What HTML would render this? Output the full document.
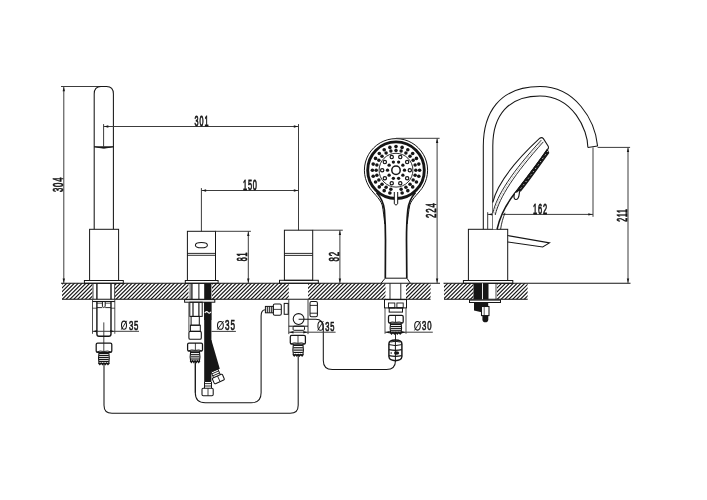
<!DOCTYPE html>
<html><head><meta charset="utf-8"><style>
html,body{margin:0;padding:0;background:#fff;}
svg{display:block;will-change:transform;}
text{font-family:"Liberation Sans",sans-serif;}
</style></head><body>
<svg width="707" height="500" viewBox="0 0 707 500">
<rect width="707" height="500" fill="#fff"/>
<clipPath id="hc1"><rect x="62" y="283.3" width="30.4" height="16"/></clipPath><path clip-path="url(#hc1)" d="M37.10,301.3 L57.10,281.3 M40.95,301.3 L60.95,281.3 M44.80,301.3 L64.80,281.3 M48.65,301.3 L68.65,281.3 M52.50,301.3 L72.50,281.3 M56.35,301.3 L76.35,281.3 M60.20,301.3 L80.20,281.3 M64.05,301.3 L84.05,281.3 M67.90,301.3 L87.90,281.3 M71.75,301.3 L91.75,281.3 M75.60,301.3 L95.60,281.3 M79.45,301.3 L99.45,281.3 M83.30,301.3 L103.30,281.3 M87.15,301.3 L107.15,281.3 M91.00,301.3 L111.00,281.3 M94.85,301.3 L114.85,281.3" stroke="#161616" stroke-width="1.15" fill="none"/>
<clipPath id="hc2"><rect x="115" y="283.3" width="73.5" height="16"/></clipPath><path clip-path="url(#hc2)" d="M91.00,301.3 L111.00,281.3 M94.85,301.3 L114.85,281.3 M98.70,301.3 L118.70,281.3 M102.55,301.3 L122.55,281.3 M106.40,301.3 L126.40,281.3 M110.25,301.3 L130.25,281.3 M114.10,301.3 L134.10,281.3 M117.95,301.3 L137.95,281.3 M121.80,301.3 L141.80,281.3 M125.65,301.3 L145.65,281.3 M129.50,301.3 L149.50,281.3 M133.35,301.3 L153.35,281.3 M137.20,301.3 L157.20,281.3 M141.05,301.3 L161.05,281.3 M144.90,301.3 L164.90,281.3 M148.75,301.3 L168.75,281.3 M152.60,301.3 L172.60,281.3 M156.45,301.3 L176.45,281.3 M160.30,301.3 L180.30,281.3 M164.15,301.3 L184.15,281.3 M168.00,301.3 L188.00,281.3 M171.85,301.3 L191.85,281.3 M175.70,301.3 L195.70,281.3 M179.55,301.3 L199.55,281.3 M183.40,301.3 L203.40,281.3 M187.25,301.3 L207.25,281.3 M191.10,301.3 L211.10,281.3" stroke="#161616" stroke-width="1.15" fill="none"/>
<clipPath id="hc3"><rect x="212" y="283.3" width="76.8" height="16"/></clipPath><path clip-path="url(#hc3)" d="M187.25,301.3 L207.25,281.3 M191.10,301.3 L211.10,281.3 M194.95,301.3 L214.95,281.3 M198.80,301.3 L218.80,281.3 M202.65,301.3 L222.65,281.3 M206.50,301.3 L226.50,281.3 M210.35,301.3 L230.35,281.3 M214.20,301.3 L234.20,281.3 M218.05,301.3 L238.05,281.3 M221.90,301.3 L241.90,281.3 M225.75,301.3 L245.75,281.3 M229.60,301.3 L249.60,281.3 M233.45,301.3 L253.45,281.3 M237.30,301.3 L257.30,281.3 M241.15,301.3 L261.15,281.3 M245.00,301.3 L265.00,281.3 M248.85,301.3 L268.85,281.3 M252.70,301.3 L272.70,281.3 M256.55,301.3 L276.55,281.3 M260.40,301.3 L280.40,281.3 M264.25,301.3 L284.25,281.3 M268.10,301.3 L288.10,281.3 M271.95,301.3 L291.95,281.3 M275.80,301.3 L295.80,281.3 M279.65,301.3 L299.65,281.3 M283.50,301.3 L303.50,281.3 M287.35,301.3 L307.35,281.3 M291.20,301.3 L311.20,281.3" stroke="#161616" stroke-width="1.15" fill="none"/>
<clipPath id="hc4"><rect x="308" y="283.3" width="77.5" height="16"/></clipPath><path clip-path="url(#hc4)" d="M283.50,301.3 L303.50,281.3 M287.35,301.3 L307.35,281.3 M291.20,301.3 L311.20,281.3 M295.05,301.3 L315.05,281.3 M298.90,301.3 L318.90,281.3 M302.75,301.3 L322.75,281.3 M306.60,301.3 L326.60,281.3 M310.45,301.3 L330.45,281.3 M314.30,301.3 L334.30,281.3 M318.15,301.3 L338.15,281.3 M322.00,301.3 L342.00,281.3 M325.85,301.3 L345.85,281.3 M329.70,301.3 L349.70,281.3 M333.55,301.3 L353.55,281.3 M337.40,301.3 L357.40,281.3 M341.25,301.3 L361.25,281.3 M345.10,301.3 L365.10,281.3 M348.95,301.3 L368.95,281.3 M352.80,301.3 L372.80,281.3 M356.65,301.3 L376.65,281.3 M360.50,301.3 L380.50,281.3 M364.35,301.3 L384.35,281.3 M368.20,301.3 L388.20,281.3 M372.05,301.3 L392.05,281.3 M375.90,301.3 L395.90,281.3 M379.75,301.3 L399.75,281.3 M383.60,301.3 L403.60,281.3 M387.45,301.3 L407.45,281.3" stroke="#161616" stroke-width="1.15" fill="none"/>
<clipPath id="hc5"><rect x="406" y="283.3" width="24.6" height="16"/></clipPath><path clip-path="url(#hc5)" d="M383.60,301.3 L403.60,281.3 M387.45,301.3 L407.45,281.3 M391.30,301.3 L411.30,281.3 M395.15,301.3 L415.15,281.3 M399.00,301.3 L419.00,281.3 M402.85,301.3 L422.85,281.3 M406.70,301.3 L426.70,281.3 M410.55,301.3 L430.55,281.3 M414.40,301.3 L434.40,281.3 M418.25,301.3 L438.25,281.3 M422.10,301.3 L442.10,281.3 M425.95,301.3 L445.95,281.3 M429.80,301.3 L449.80,281.3 M433.65,301.3 L453.65,281.3" stroke="#161616" stroke-width="1.15" fill="none"/>
<clipPath id="hc6"><rect x="444" y="283.3" width="29.5" height="16"/></clipPath><path clip-path="url(#hc6)" d="M422.10,301.3 L442.10,281.3 M425.95,301.3 L445.95,281.3 M429.80,301.3 L449.80,281.3 M433.65,301.3 L453.65,281.3 M437.50,301.3 L457.50,281.3 M441.35,301.3 L461.35,281.3 M445.20,301.3 L465.20,281.3 M449.05,301.3 L469.05,281.3 M452.90,301.3 L472.90,281.3 M456.75,301.3 L476.75,281.3 M460.60,301.3 L480.60,281.3 M464.45,301.3 L484.45,281.3 M468.30,301.3 L488.30,281.3 M472.15,301.3 L492.15,281.3 M476.00,301.3 L496.00,281.3" stroke="#161616" stroke-width="1.15" fill="none"/>
<clipPath id="hc7"><rect x="497" y="283.3" width="30.6" height="16"/></clipPath><path clip-path="url(#hc7)" d="M472.15,301.3 L492.15,281.3 M476.00,301.3 L496.00,281.3 M479.85,301.3 L499.85,281.3 M483.70,301.3 L503.70,281.3 M487.55,301.3 L507.55,281.3 M491.40,301.3 L511.40,281.3 M495.25,301.3 L515.25,281.3 M499.10,301.3 L519.10,281.3 M502.95,301.3 L522.95,281.3 M506.80,301.3 L526.80,281.3 M510.65,301.3 L530.65,281.3 M514.50,301.3 L534.50,281.3 M518.35,301.3 L538.35,281.3 M522.20,301.3 L542.20,281.3 M526.05,301.3 L546.05,281.3 M529.90,301.3 L549.90,281.3" stroke="#161616" stroke-width="1.15" fill="none"/>
<line x1="61" y1="283.3" x2="440" y2="283.3" stroke="#161616" stroke-width="1.05"/>
<line x1="62" y1="299.3" x2="430.6" y2="299.3" stroke="#161616" stroke-width="1.05"/>
<line x1="443.5" y1="283.3" x2="630.5" y2="283.3" stroke="#161616" stroke-width="1.05"/>
<line x1="444" y1="299.3" x2="527.6" y2="299.3" stroke="#161616" stroke-width="1.05"/>
<line x1="61" y1="86.5" x2="104" y2="86.5" stroke="#3c3c3c" stroke-width="1.0"/>
<line x1="63.8" y1="86.5" x2="63.8" y2="283.3" stroke="#3c3c3c" stroke-width="1.0"/>
<path d="M63.8,87 L62.6,91.2 L65,91.2Z" fill="#161616"/>
<path d="M63.8,282.8 L62.6,278.6 L65,278.6Z" fill="#161616"/>
<text transform="translate(62.7,192.11) rotate(-90) scale(0.5385,1)" letter-spacing="1.671" font-size="14.20" fill="#161616" stroke="#161616" stroke-width="0.743">304</text>
<path d="M94.2,229.3 L94.2,94 C94.2,89.5 96.5,86.5 101,86.5 L106.6,86.5 C111,86.5 113.4,89.5 113.4,94 L113.4,229.3" fill="none" stroke="#161616" stroke-width="1.05" />
<path d="M94.2,146.8 L113.4,146.8 Q103.8,149.6 94.2,146.8 Z" fill="#161616" stroke="#161616" stroke-width="0.9" />
<line x1="103.6" y1="124.1" x2="103.6" y2="147" stroke="#3c3c3c" stroke-width="1.0"/>
<rect x="89.6" y="229.3" width="29" height="51.2" rx="0" fill="none" stroke="#161616" stroke-width="1.0"/>
<rect x="84.4" y="280.5" width="38.9" height="2.8" rx="0" fill="none" stroke="#161616" stroke-width="1.0"/>
<line x1="93" y1="283.3" x2="93" y2="299.3" stroke="#161616" stroke-width="0.8"/>
<line x1="114.6" y1="283.3" x2="114.6" y2="299.3" stroke="#161616" stroke-width="0.8"/>
<line x1="96.9" y1="283.3" x2="96.9" y2="299.3" stroke="#161616" stroke-width="1.4"/>
<line x1="111" y1="283.3" x2="111" y2="299.3" stroke="#161616" stroke-width="1.4"/>
<line x1="92.5" y1="299.3" x2="92.5" y2="333.8" stroke="#3c3c3c" stroke-width="0.9"/>
<line x1="114.8" y1="299.3" x2="114.8" y2="333.8" stroke="#3c3c3c" stroke-width="0.9"/>
<line x1="92.5" y1="301.5" x2="114.8" y2="301.5" stroke="#161616" stroke-width="1.1"/>
<line x1="92.5" y1="308.2" x2="96.9" y2="308.2" stroke="#161616" stroke-width="0.7"/>
<line x1="111" y1="308.2" x2="114.8" y2="308.2" stroke="#161616" stroke-width="0.7"/>
<path d="M96.9,301.5 L96.9,334 Q96.9,336.2 99,336.2 L108.8,336.2 Q111,336.2 111,334 L111,301.5" fill="none" stroke="#161616" stroke-width="1.4" />
<path d="M102.4,301.5 L102.4,306.5 Q103.8,308.6 105.2,306.5 L105.2,301.5" fill="none" stroke="#161616" stroke-width="1.0" />
<line x1="96.9" y1="303.2" x2="102.4" y2="303.2" stroke="#161616" stroke-width="0.7"/>
<line x1="105.2" y1="303.2" x2="111" y2="303.2" stroke="#161616" stroke-width="0.7"/>
<line x1="96.9" y1="307.6" x2="102.4" y2="307.6" stroke="#161616" stroke-width="0.9"/>
<line x1="105.2" y1="307.6" x2="111" y2="307.6" stroke="#161616" stroke-width="0.9"/>
<line x1="103.8" y1="322.4" x2="103.8" y2="343.4" stroke="#161616" stroke-width="0.8"/>
<line x1="92.5" y1="331.3" x2="139" y2="331.3" stroke="#3c3c3c" stroke-width="1.0"/>
<path d="M93,331.3 L97.2,330.1 L97.2,332.5Z" fill="#161616"/>
<path d="M114.3,331.3 L110.1,330.1 L110.1,332.5Z" fill="#161616"/>
<ellipse cx="124" cy="325.2" rx="2.5" ry="4.1" fill="none" stroke="#161616" stroke-width="1.05"/>
<line x1="121.3" y1="329.6" x2="126.7" y2="320.8" stroke="#161616" stroke-width="0.9"/>
<text transform="translate(128.89,329.6) scale(0.5724,1)" letter-spacing="1.572" font-size="13.62" fill="#161616" stroke="#161616" stroke-width="0.699" style="vector-effect:none">35</text>
<rect x="96.2" y="343.1" width="15.6" height="9.2" rx="1.4" fill="#fff" stroke="#161616" stroke-width="1.25"/>
<line x1="103.8" y1="343.1" x2="103.8" y2="351.3" stroke="#161616" stroke-width="0.8"/>
<path d="M96.7,352 Q100,350.3 103.8,351.5 Q107.8,350.3 111.3,352" fill="none" stroke="#161616" stroke-width="0.9" />
<path d="M99,352.3 C98.2,357.22 98.2,359.68 99,363.6 M108.8,352.3 C109.6,357.22 109.6,359.68 108.8,363.6" fill="none" stroke="#161616" stroke-width="1.1" />
<line x1="99" y1="353.6" x2="108.8" y2="353.6" stroke="#161616" stroke-width="1.15"/>
<line x1="99" y1="355.56" x2="108.8" y2="355.56" stroke="#161616" stroke-width="1.15"/>
<line x1="99" y1="357.52" x2="108.8" y2="357.52" stroke="#161616" stroke-width="1.15"/>
<line x1="99" y1="359.48" x2="108.8" y2="359.48" stroke="#161616" stroke-width="1.15"/>
<line x1="99" y1="361.44" x2="108.8" y2="361.44" stroke="#161616" stroke-width="1.15"/>
<line x1="99" y1="363.4" x2="108.8" y2="363.4" stroke="#161616" stroke-width="1.15"/>
<path d="M98.5,363 L99.85,364.6 L101.2,363 L102.55,364.6 L103.9,363 L105.25,364.6 L106.6,363 L107.95,364.6 L109.3,363" fill="none" stroke="#161616" stroke-width="1.2" />
<path d="M104,363.5 L104,405.2 Q104,413.3 112,413.3 L290.2,413.3 Q298.2,413.3 298.2,405.2 L298.2,355.1" fill="none" stroke="#161616" stroke-width="1.05" />
<line x1="103.6" y1="126.5" x2="298.5" y2="126.5" stroke="#3c3c3c" stroke-width="1.0"/>
<path d="M104.1,126.5 L108.3,125.3 L108.3,127.7Z" fill="#161616"/>
<path d="M298,126.5 L293.8,125.3 L293.8,127.7Z" fill="#161616"/>
<text transform="translate(194.61,125.7) scale(0.4972,1)" letter-spacing="1.810" font-size="14.49" fill="#161616" stroke="#161616" stroke-width="0.804" style="vector-effect:none">301</text>
<line x1="298.5" y1="124.1" x2="298.5" y2="230.2" stroke="#3c3c3c" stroke-width="1.0"/>
<line x1="201.4" y1="188.1" x2="201.4" y2="231.3" stroke="#3c3c3c" stroke-width="1.0"/>
<line x1="201.4" y1="190.5" x2="298.5" y2="190.5" stroke="#3c3c3c" stroke-width="1.0"/>
<path d="M201.9,190.5 L206.1,189.3 L206.1,191.7Z" fill="#161616"/>
<path d="M298,190.5 L293.8,189.3 L293.8,191.7Z" fill="#161616"/>
<text transform="translate(242.91,189.6) scale(0.5059,1)" letter-spacing="1.779" font-size="14.49" fill="#161616" stroke="#161616" stroke-width="0.791" style="vector-effect:none">150</text>
<rect x="187.4" y="231.3" width="28.1" height="49.2" rx="0" fill="none" stroke="#161616" stroke-width="1.0"/>
<line x1="187.4" y1="253.4" x2="215.5" y2="253.4" stroke="#161616" stroke-width="0.9"/>
<line x1="187.4" y1="255.3" x2="215.5" y2="255.3" stroke="#161616" stroke-width="0.9"/>
<ellipse cx="201.4" cy="245.2" rx="6" ry="2.6" fill="none" stroke="#161616" stroke-width="1.05"/>
<rect x="185.3" y="280.5" width="32.8" height="2.8" rx="0" fill="none" stroke="#161616" stroke-width="1.0"/>
<line x1="215.5" y1="231.3" x2="250.9" y2="231.3" stroke="#3c3c3c" stroke-width="1.0"/>
<line x1="248.3" y1="231.3" x2="248.3" y2="283.3" stroke="#3c3c3c" stroke-width="1.0"/>
<path d="M248.3,231.8 L247.1,236 L249.5,236Z" fill="#161616"/>
<path d="M248.3,282.8 L247.1,278.6 L249.5,278.6Z" fill="#161616"/>
<text transform="translate(246.6,261.29) rotate(-90) scale(0.5239,1)" letter-spacing="1.718" font-size="13.77" fill="#161616" stroke="#161616" stroke-width="0.764">81</text>
<line x1="190.1" y1="283.3" x2="190.1" y2="299.3" stroke="#161616" stroke-width="0.8"/>
<line x1="191.9" y1="283.3" x2="191.9" y2="299.3" stroke="#161616" stroke-width="1.3"/>
<line x1="198.9" y1="283.3" x2="198.9" y2="299.3" stroke="#161616" stroke-width="1.0"/>
<rect x="204.2" y="283.3" width="7.2" height="98.7" fill="#161616"/>
<path d="M210.4,340 L211.4,340 L219.8,368.8 L213.2,371.5 L210.4,371.5 Z" fill="#161616"/>
<rect x="184.6" y="299.6" width="30.2" height="2.6" rx="0" fill="#fff" stroke="#161616" stroke-width="1.0"/>
<rect x="204.2" y="302.2" width="7.2" height="17.8" fill="#161616"/>
<path d="M204.8,313 Q206.5,310.6 208,312.4 Q209.5,314.2 211,311.8" fill="none" stroke="#fff" stroke-width="1.1" />
<rect x="189.8" y="302.2" width="12.4" height="14.2" rx="0" fill="none" stroke="#161616" stroke-width="1.0"/>
<line x1="193" y1="302.2" x2="193" y2="316.4" stroke="#161616" stroke-width="1.2"/>
<line x1="198.9" y1="302.2" x2="198.9" y2="316.4" stroke="#161616" stroke-width="1.2"/>
<line x1="188.9" y1="302.2" x2="188.9" y2="331.4" stroke="#3c3c3c" stroke-width="0.9"/>
<rect x="191.1" y="316.4" width="8.2" height="8.8" rx="0" fill="none" stroke="#161616" stroke-width="1.0"/>
<rect x="190.4" y="325.2" width="9.9" height="6.2" rx="0" fill="none" stroke="#161616" stroke-width="1.0"/>
<rect x="188.9" y="331.4" width="12.4" height="7.9" rx="1.3" fill="none" stroke="#161616" stroke-width="1.1"/>
<line x1="211.4" y1="331.4" x2="235.9" y2="331.4" stroke="#3c3c3c" stroke-width="1.0"/>
<ellipse cx="220.4" cy="325.4" rx="2.9" ry="3.9" fill="none" stroke="#161616" stroke-width="1.05"/>
<line x1="217.3" y1="329.6" x2="223.5" y2="321.2" stroke="#161616" stroke-width="0.9"/>
<text transform="translate(225.08,329.9) scale(0.5876,1)" letter-spacing="1.532" font-size="13.77" fill="#161616" stroke="#161616" stroke-width="0.681" style="vector-effect:none">35</text>
<rect x="187.6" y="343" width="14.9" height="8.2" rx="1.4" fill="#fff" stroke="#161616" stroke-width="1.25"/>
<line x1="195.4" y1="343" x2="195.4" y2="350.2" stroke="#161616" stroke-width="0.8"/>
<path d="M188.1,350.9 Q191.5,349.2 195.4,350.4 Q198.95,349.2 202,350.9" fill="none" stroke="#161616" stroke-width="0.9" />
<path d="M190.7,351.2 C189.9,355.68 189.9,357.92 190.7,361.4 M199.4,351.2 C200.2,355.68 200.2,357.92 199.4,361.4" fill="none" stroke="#161616" stroke-width="1.1" />
<line x1="190.7" y1="352.5" x2="199.4" y2="352.5" stroke="#161616" stroke-width="1.15"/>
<line x1="190.7" y1="354.68" x2="199.4" y2="354.68" stroke="#161616" stroke-width="1.15"/>
<line x1="190.7" y1="356.85" x2="199.4" y2="356.85" stroke="#161616" stroke-width="1.15"/>
<line x1="190.7" y1="359.02" x2="199.4" y2="359.02" stroke="#161616" stroke-width="1.15"/>
<line x1="190.7" y1="361.2" x2="199.4" y2="361.2" stroke="#161616" stroke-width="1.15"/>
<path d="M190.2,360.8 L191.41,362.4 L192.62,360.8 L193.84,362.4 L195.05,360.8 L196.26,362.4 L197.47,360.8 L198.69,362.4 L199.9,360.8" fill="none" stroke="#161616" stroke-width="1.2" />
<line x1="195.3" y1="362.2" x2="195.3" y2="392.8" stroke="#161616" stroke-width="1.0"/>
<path d="M195.3,362.2 L195.3,392.8 Q195.3,402.8 205.3,402.8 L251.1,402.8 Q261.1,402.8 261.1,392.8 L261.1,316 Q261.1,309.8 265.4,309.8" fill="none" stroke="#161616" stroke-width="1.05" />
<path d="M204.5,382 L204.5,388.2 M211.5,382 L211.5,388.2" fill="none" stroke="#161616" stroke-width="1.0" />
<line x1="204.5" y1="383.6" x2="211.5" y2="383.6" stroke="#161616" stroke-width="0.9"/>
<line x1="204.5" y1="386" x2="211.5" y2="386" stroke="#161616" stroke-width="0.9"/>
<rect x="202" y="388.3" width="11.2" height="7.5" rx="1.2" fill="none" stroke="#161616" stroke-width="1.05"/>
<line x1="208" y1="388.3" x2="208" y2="395.8" stroke="#161616" stroke-width="0.8"/>
<g transform="translate(218.3,378.9) rotate(-24)"><rect x="-5.5" y="-3.0" width="11" height="6.2" rx="1" fill="#fff" stroke="#161616" stroke-width="1.05"/><line x1="0.5" y1="-3" x2="0.5" y2="3.2" stroke="#161616" stroke-width="0.8"/><path d="M-3.8,-3 L-3.8,-9.2 L3.6,-9.2 L3.6,-3 M-3.8,-5 L3.6,-5 M-3.8,-7.2 L3.6,-7.2" fill="none" stroke="#161616" stroke-width="0.9"/></g>
<rect x="284.4" y="230.2" width="28.3" height="50.1" rx="0" fill="none" stroke="#161616" stroke-width="1.0"/>
<line x1="284.4" y1="253.4" x2="312.7" y2="253.4" stroke="#161616" stroke-width="0.9"/>
<line x1="284.4" y1="255.4" x2="312.7" y2="255.4" stroke="#161616" stroke-width="0.9"/>
<rect x="279.5" y="280.3" width="38.8" height="3" rx="0" fill="none" stroke="#161616" stroke-width="1.0"/>
<line x1="312.7" y1="230.2" x2="342.8" y2="230.2" stroke="#3c3c3c" stroke-width="1.0"/>
<line x1="339.9" y1="230.2" x2="339.9" y2="283.3" stroke="#3c3c3c" stroke-width="1.0"/>
<path d="M339.9,230.7 L338.7,234.9 L341.1,234.9Z" fill="#161616"/>
<path d="M339.9,282.8 L338.7,278.6 L341.1,278.6Z" fill="#161616"/>
<text transform="translate(338.7,261.52) rotate(-90) scale(0.5559,1)" letter-spacing="1.619" font-size="14.20" fill="#161616" stroke="#161616" stroke-width="0.720">82</text>
<line x1="288.8" y1="299.3" x2="288.8" y2="334.1" stroke="#3c3c3c" stroke-width="1.0"/>
<line x1="308" y1="299.3" x2="308" y2="334.1" stroke="#3c3c3c" stroke-width="1.0"/>
<line x1="288.8" y1="326.2" x2="308" y2="326.2" stroke="#161616" stroke-width="1.0"/>
<rect x="293.1" y="326.2" width="11.4" height="4.1" rx="1" fill="none" stroke="#161616" stroke-width="1.0"/>
<circle cx="298.6" cy="319" r="5.4" fill="none" stroke="#161616" stroke-width="1.05"/>
<path d="M298.6,319.3 L315.8,319.3 Q323.3,319.3 323.3,327.5 L323.3,360.5 Q323.3,369.5 332.3,369.5 L386.5,369.5 Q395.5,369.5 395.5,360.5" fill="none" stroke="#161616" stroke-width="1.05" />
<rect x="284.2" y="303.4" width="4" height="10.9" rx="0" fill="none" stroke="#161616" stroke-width="1.0"/>
<rect x="310" y="301.4" width="7.4" height="15.4" rx="1.5" fill="none" stroke="#161616" stroke-width="1.05"/>
<line x1="310" y1="305.4" x2="317.4" y2="305.4" stroke="#161616" stroke-width="0.9"/>
<line x1="310" y1="313.2" x2="317.4" y2="313.2" stroke="#161616" stroke-width="0.9"/>
<rect x="273.3" y="303.9" width="8" height="11.4" rx="1.5" fill="none" stroke="#161616" stroke-width="1.05"/>
<line x1="273.3" y1="309.4" x2="281.3" y2="309.4" stroke="#161616" stroke-width="0.8"/>
<rect x="265.4" y="306.4" width="7.9" height="6.4" rx="0" fill="none" stroke="#161616" stroke-width="1.0"/>
<line x1="267.3" y1="306.4" x2="267.3" y2="312.8" stroke="#161616" stroke-width="1.0"/>
<line x1="269.3" y1="306.4" x2="269.3" y2="312.8" stroke="#161616" stroke-width="1.0"/>
<line x1="271.3" y1="306.4" x2="271.3" y2="312.8" stroke="#161616" stroke-width="1.0"/>
<line x1="288.8" y1="332.2" x2="335.6" y2="332.2" stroke="#3c3c3c" stroke-width="1.0"/>
<path d="M289.3,332.2 L293.5,331 L293.5,333.4Z" fill="#161616"/>
<path d="M307.5,332.2 L303.3,331 L303.3,333.4Z" fill="#161616"/>
<ellipse cx="320.5" cy="325.9" rx="2.6" ry="4.4" fill="none" stroke="#161616" stroke-width="1.05"/>
<line x1="317.7" y1="330.6" x2="323.3" y2="321.2" stroke="#161616" stroke-width="0.9"/>
<text transform="translate(325.3,330.6) scale(0.5509,1)" letter-spacing="1.634" font-size="13.62" fill="#161616" stroke="#161616" stroke-width="0.726" style="vector-effect:none">35</text>
<rect x="290.3" y="335.3" width="15.1" height="8.8" rx="1.4" fill="#fff" stroke="#161616" stroke-width="1.25"/>
<line x1="298" y1="335.3" x2="298" y2="343.1" stroke="#161616" stroke-width="0.8"/>
<path d="M290.8,343.8 Q294.15,342.1 298,343.3 Q301.7,342.1 304.9,343.8" fill="none" stroke="#161616" stroke-width="0.9" />
<path d="M293.4,344.1 C292.6,348.86 292.6,351.24 293.4,355 M302.9,344.1 C303.7,348.86 303.7,351.24 302.9,355" fill="none" stroke="#161616" stroke-width="1.1" />
<line x1="293.4" y1="345.4" x2="302.9" y2="345.4" stroke="#161616" stroke-width="1.15"/>
<line x1="293.4" y1="347.75" x2="302.9" y2="347.75" stroke="#161616" stroke-width="1.15"/>
<line x1="293.4" y1="350.1" x2="302.9" y2="350.1" stroke="#161616" stroke-width="1.15"/>
<line x1="293.4" y1="352.45" x2="302.9" y2="352.45" stroke="#161616" stroke-width="1.15"/>
<line x1="293.4" y1="354.8" x2="302.9" y2="354.8" stroke="#161616" stroke-width="1.15"/>
<path d="M292.9,354.4 L294.21,356 L295.52,354.4 L296.84,356 L298.15,354.4 L299.46,356 L300.77,354.4 L302.09,356 L303.4,354.4" fill="none" stroke="#161616" stroke-width="1.2" />
<path d="M368.63,186 A31.6,31.6 0 1 1 423.37,186" fill="none" stroke="#161616" stroke-width="1.0"/>
<circle cx="396" cy="170.2" r="28.3" fill="none" stroke="#161616" stroke-width="2.9"/>
<path d="M368.63,186 C372,192.5 380,198 382.2,205 C383.4,211 384,217 384.8,224" fill="none" stroke="#161616" stroke-width="1.0" />
<path d="M423.37,186 C420,192.5 412,198 409.8,205 C408.6,211 408,217 407.2,224" fill="none" stroke="#161616" stroke-width="1.0" />
<path d="M376.5,192.5 C381.5,198 383.8,204 384.4,210 C385,218 385.5,230 385.5,240 L385.3,278.2" fill="none" stroke="#161616" stroke-width="1.7" />
<path d="M415.5,192.5 C410.5,198 408.4,204 407.8,210 C407,218 406.5,230 406.5,240 L406.8,278.2" fill="none" stroke="#161616" stroke-width="1.7" />
<line x1="385.3" y1="278.2" x2="406.8" y2="278.2" stroke="#161616" stroke-width="1.0"/>
<path d="M385.2,278.2 L381,283.3 M406.9,278.2 L410.4,283.3" fill="none" stroke="#161616" stroke-width="1.0" />
<circle cx="396" cy="170.2" r="16.9" fill="none" stroke="#161616" stroke-width="0.9"/>
<circle cx="396" cy="170.2" r="4.2" fill="#fff" stroke="#161616" stroke-width="1.5"/>
<circle cx="419.60" cy="170.20" r="1.8" fill="#161616"/>
<circle cx="415.80" cy="170.20" r="1.75" fill="#161616"/>
<circle cx="418.80" cy="176.31" r="1.8" fill="#161616"/>
<circle cx="415.13" cy="175.32" r="1.75" fill="#161616"/>
<circle cx="416.44" cy="182.00" r="1.8" fill="#161616"/>
<circle cx="413.15" cy="180.10" r="1.75" fill="#161616"/>
<circle cx="412.69" cy="186.89" r="1.8" fill="#161616"/>
<circle cx="410.00" cy="184.20" r="1.75" fill="#161616"/>
<circle cx="407.80" cy="190.64" r="1.8" fill="#161616"/>
<circle cx="405.90" cy="187.35" r="1.75" fill="#161616"/>
<circle cx="402.11" cy="193.00" r="1.8" fill="#161616"/>
<circle cx="401.12" cy="189.33" r="1.75" fill="#161616"/>
<circle cx="389.89" cy="193.00" r="1.8" fill="#161616"/>
<circle cx="390.88" cy="189.33" r="1.75" fill="#161616"/>
<circle cx="384.20" cy="190.64" r="1.8" fill="#161616"/>
<circle cx="386.10" cy="187.35" r="1.75" fill="#161616"/>
<circle cx="379.31" cy="186.89" r="1.8" fill="#161616"/>
<circle cx="382.00" cy="184.20" r="1.75" fill="#161616"/>
<circle cx="375.56" cy="182.00" r="1.8" fill="#161616"/>
<circle cx="378.85" cy="180.10" r="1.75" fill="#161616"/>
<circle cx="373.20" cy="176.31" r="1.8" fill="#161616"/>
<circle cx="376.87" cy="175.32" r="1.75" fill="#161616"/>
<circle cx="372.40" cy="170.20" r="1.8" fill="#161616"/>
<circle cx="376.20" cy="170.20" r="1.75" fill="#161616"/>
<circle cx="373.20" cy="164.09" r="1.8" fill="#161616"/>
<circle cx="376.87" cy="165.08" r="1.75" fill="#161616"/>
<circle cx="375.56" cy="158.40" r="1.8" fill="#161616"/>
<circle cx="378.85" cy="160.30" r="1.75" fill="#161616"/>
<circle cx="379.31" cy="153.51" r="1.8" fill="#161616"/>
<circle cx="382.00" cy="156.20" r="1.75" fill="#161616"/>
<circle cx="384.20" cy="149.76" r="1.8" fill="#161616"/>
<circle cx="386.10" cy="153.05" r="1.75" fill="#161616"/>
<circle cx="389.89" cy="147.40" r="1.8" fill="#161616"/>
<circle cx="390.88" cy="151.07" r="1.75" fill="#161616"/>
<circle cx="396.00" cy="146.60" r="1.8" fill="#161616"/>
<circle cx="396.00" cy="150.40" r="1.75" fill="#161616"/>
<circle cx="402.11" cy="147.40" r="1.8" fill="#161616"/>
<circle cx="401.12" cy="151.07" r="1.75" fill="#161616"/>
<circle cx="407.80" cy="149.76" r="1.8" fill="#161616"/>
<circle cx="405.90" cy="153.05" r="1.75" fill="#161616"/>
<circle cx="412.69" cy="153.51" r="1.8" fill="#161616"/>
<circle cx="410.00" cy="156.20" r="1.75" fill="#161616"/>
<circle cx="416.44" cy="158.40" r="1.8" fill="#161616"/>
<circle cx="413.15" cy="160.30" r="1.75" fill="#161616"/>
<circle cx="418.80" cy="164.09" r="1.8" fill="#161616"/>
<circle cx="415.13" cy="165.08" r="1.75" fill="#161616"/>
<circle cx="409.80" cy="170.20" r="1.65" fill="#fff" stroke="#161616" stroke-width="1.2"/>
<circle cx="404.50" cy="170.20" r="1.65" fill="#161616"/>
<circle cx="407.16" cy="178.31" r="1.65" fill="#fff" stroke="#161616" stroke-width="1.2"/>
<circle cx="402.88" cy="175.20" r="1.65" fill="#161616"/>
<circle cx="400.26" cy="183.32" r="1.65" fill="#fff" stroke="#161616" stroke-width="1.2"/>
<circle cx="398.63" cy="178.28" r="1.65" fill="#161616"/>
<circle cx="391.74" cy="183.32" r="1.65" fill="#fff" stroke="#161616" stroke-width="1.2"/>
<circle cx="393.37" cy="178.28" r="1.65" fill="#161616"/>
<circle cx="384.84" cy="178.31" r="1.65" fill="#fff" stroke="#161616" stroke-width="1.2"/>
<circle cx="389.12" cy="175.20" r="1.65" fill="#161616"/>
<circle cx="382.20" cy="170.20" r="1.65" fill="#fff" stroke="#161616" stroke-width="1.2"/>
<circle cx="387.50" cy="170.20" r="1.65" fill="#161616"/>
<circle cx="384.84" cy="162.09" r="1.65" fill="#fff" stroke="#161616" stroke-width="1.2"/>
<circle cx="389.12" cy="165.20" r="1.65" fill="#161616"/>
<circle cx="391.74" cy="157.08" r="1.65" fill="#fff" stroke="#161616" stroke-width="1.2"/>
<circle cx="393.37" cy="162.12" r="1.65" fill="#161616"/>
<circle cx="400.26" cy="157.08" r="1.65" fill="#fff" stroke="#161616" stroke-width="1.2"/>
<circle cx="398.63" cy="162.12" r="1.65" fill="#161616"/>
<circle cx="407.16" cy="162.09" r="1.65" fill="#fff" stroke="#161616" stroke-width="1.2"/>
<circle cx="402.88" cy="165.20" r="1.65" fill="#161616"/>
<path d="M394.3,192 L394.3,203.8 Q396,206.6 397.7,203.8 L397.7,192" fill="#fff" stroke="#161616" stroke-width="1.0" />
<line x1="396" y1="138.3" x2="439.6" y2="138.3" stroke="#3c3c3c" stroke-width="1.0"/>
<line x1="437.1" y1="138.3" x2="437.1" y2="283.3" stroke="#3c3c3c" stroke-width="1.0"/>
<path d="M437.1,138.8 L435.9,143 L438.3,143Z" fill="#161616"/>
<path d="M437.1,282.8 L435.9,278.6 L438.3,278.6Z" fill="#161616"/>
<text transform="translate(435.6,218.01) rotate(-90) scale(0.5519,1)" letter-spacing="1.631" font-size="14.20" fill="#161616" stroke="#161616" stroke-width="0.725">224</text>
<line x1="390" y1="283.3" x2="390" y2="299.3" stroke="#161616" stroke-width="0.9"/>
<line x1="400.8" y1="283.3" x2="400.8" y2="299.3" stroke="#161616" stroke-width="0.9"/>
<rect x="384.5" y="299.6" width="22" height="8.3" rx="0" fill="none" stroke="#161616" stroke-width="1.0"/>
<rect x="388.5" y="303" width="6.3" height="4.9" rx="0" fill="none" stroke="#161616" stroke-width="0.9"/>
<rect x="396.9" y="303" width="6.3" height="4.9" rx="0" fill="none" stroke="#161616" stroke-width="0.9"/>
<rect x="389.2" y="307.9" width="13.3" height="4.2" rx="0" fill="none" stroke="#161616" stroke-width="1.0"/>
<line x1="385" y1="307.9" x2="385" y2="333.8" stroke="#3c3c3c" stroke-width="0.9"/>
<line x1="406" y1="307.9" x2="406" y2="333.8" stroke="#3c3c3c" stroke-width="0.9"/>
<line x1="385" y1="332.2" x2="432.8" y2="332.2" stroke="#3c3c3c" stroke-width="1.0"/>
<path d="M385.5,332.2 L389.7,331 L389.7,333.4Z" fill="#161616"/>
<path d="M405.5,332.2 L401.3,331 L401.3,333.4Z" fill="#161616"/>
<ellipse cx="417.5" cy="325.8" rx="2.8" ry="4.3" fill="none" stroke="#161616" stroke-width="1.05"/>
<line x1="414.5" y1="330.4" x2="420.5" y2="321.2" stroke="#161616" stroke-width="0.9"/>
<text transform="translate(422.09,330.4) scale(0.5775,1)" letter-spacing="1.558" font-size="13.33" fill="#161616" stroke="#161616" stroke-width="0.693" style="vector-effect:none">30</text>
<rect x="388.5" y="315.4" width="14.7" height="7.8" rx="1.4" fill="#fff" stroke="#161616" stroke-width="1.25"/>
<line x1="395.5" y1="315.4" x2="395.5" y2="322.2" stroke="#161616" stroke-width="0.8"/>
<path d="M389,322.9 Q392,321.2 395.5,322.4 Q399.35,321.2 402.7,322.9" fill="none" stroke="#161616" stroke-width="0.9" />
<path d="M390.6,323.2 C389.8,327.52 389.8,329.68 390.6,333 M401.1,323.2 C401.9,327.52 401.9,329.68 401.1,333" fill="none" stroke="#161616" stroke-width="1.1" />
<line x1="390.6" y1="324.5" x2="401.1" y2="324.5" stroke="#161616" stroke-width="1.15"/>
<line x1="390.6" y1="326.57" x2="401.1" y2="326.57" stroke="#161616" stroke-width="1.15"/>
<line x1="390.6" y1="328.65" x2="401.1" y2="328.65" stroke="#161616" stroke-width="1.15"/>
<line x1="390.6" y1="330.73" x2="401.1" y2="330.73" stroke="#161616" stroke-width="1.15"/>
<line x1="390.6" y1="332.8" x2="401.1" y2="332.8" stroke="#161616" stroke-width="1.15"/>
<path d="M390.1,332.4 L391.54,334 L392.98,332.4 L394.41,334 L395.85,332.4 L397.29,334 L398.73,332.4 L400.16,334 L401.6,332.4" fill="none" stroke="#161616" stroke-width="1.2" />
<line x1="395.5" y1="333" x2="395.5" y2="339.4" stroke="#161616" stroke-width="0.9"/>
<path d="M388.9,344 C388.9,338.8 401.9,338.8 401.9,344 L401.9,356.6 C401.9,362 388.9,362 388.9,356.6 Z" fill="#fff" stroke="#161616" stroke-width="1.45" />
<path d="M389,344.6 Q395.4,346.6 401.8,344.6" fill="none" stroke="#161616" stroke-width="1.0" />
<path d="M389,349.6 Q395.4,351.2 401.8,349.6 M389,355.6 Q395.4,357.2 401.8,355.6" fill="none" stroke="#161616" stroke-width="1.1" />
<path d="M390.5,342 Q395.4,340.6 400.3,342" fill="none" stroke="#161616" stroke-width="1.0" />
<ellipse cx="396.6" cy="353" rx="2.6" ry="1.7" fill="#161616"/>
<circle cx="391.2" cy="353" r="0.8" fill="#161616"/>
<line x1="395.4" y1="339" x2="395.4" y2="361.2" stroke="#161616" stroke-width="1.0"/>
<rect x="468.4" y="229.3" width="39.3" height="51.2" rx="0" fill="none" stroke="#161616" stroke-width="1.0"/>
<rect x="463.4" y="280.5" width="49.4" height="2.8" rx="0" fill="none" stroke="#161616" stroke-width="1.0"/>
<path d="M507.7,235.6 L549.5,242.9 L542.7,247 L507.7,242" fill="none" stroke="#161616" stroke-width="1.05" />
<rect x="473.5" y="283.3" width="15" height="16" fill="#161616"/>
<line x1="482.5" y1="283.3" x2="482.5" y2="299.3" stroke="#fff" stroke-width="0.9"/>
<line x1="496" y1="283.3" x2="496" y2="299.3" stroke="#161616" stroke-width="0.8"/>
<rect x="469.5" y="300.1" width="31" height="2.4" rx="0" fill="none" stroke="#161616" stroke-width="1.0"/>
<path d="M474,302.5 L488.2,302.5 L488.2,306.5 L481.5,306.5 L481.5,312.2 L474,310.4 Z" fill="#161616"/>
<rect x="481.5" y="306.5" width="7.5" height="9.1" rx="0" fill="#fff" stroke="#161616" stroke-width="1.05"/>
<line x1="484.2" y1="306.5" x2="484.2" y2="315.6" stroke="#161616" stroke-width="0.7"/>
<path d="M482.4,315.6 L488.3,315.6 L488.3,319.4 C488.3,323.2 482.4,323.2 482.4,319.4 Z" fill="#161616"/>
<path d="M483.3,229.3 L483.3,146 C483.3,113.4 498.6,86.6 540,86.6 C575.3,86.6 595.1,119.8 597.6,146.1" fill="none" stroke="#161616" stroke-width="1.05" />
<path d="M492.8,229.3 L492.8,146 C492.8,115 508.6,96 540,96 C573,96 587.8,129.9 587.9,147.4" fill="none" stroke="#161616" stroke-width="1.05" />
<line x1="587.9" y1="147.4" x2="597.6" y2="146.1" stroke="#161616" stroke-width="1.05"/>
<line x1="597.6" y1="147.4" x2="630.1" y2="147.4" stroke="#3c3c3c" stroke-width="1.0"/>
<line x1="628" y1="147.4" x2="628" y2="283.3" stroke="#3c3c3c" stroke-width="1.0"/>
<path d="M628,147.9 L626.8,152.1 L629.2,152.1Z" fill="#161616"/>
<path d="M628,282.8 L626.8,278.6 L629.2,278.6Z" fill="#161616"/>
<text transform="translate(626.7,221.77) rotate(-90) scale(0.4958,1)" letter-spacing="1.815" font-size="13.77" fill="#161616" stroke="#161616" stroke-width="0.807">211</text>
<line x1="593" y1="147.4" x2="593" y2="216.8" stroke="#3c3c3c" stroke-width="1.0"/>
<line x1="487.7" y1="214.4" x2="593" y2="214.4" stroke="#3c3c3c" stroke-width="1.0"/>
<path d="M488.2,214.4 L492.4,213.2 L492.4,215.6Z" fill="#161616"/>
<path d="M592.5,214.4 L588.3,213.2 L588.3,215.6Z" fill="#161616"/>
<line x1="487.7" y1="212.2" x2="487.7" y2="229.3" stroke="#3c3c3c" stroke-width="1.0"/>
<text transform="translate(532.9,213.6) scale(0.5103,1)" letter-spacing="1.764" font-size="14.49" fill="#161616" stroke="#161616" stroke-width="0.784" style="vector-effect:none">162</text>
<path d="M492.8,203 C497,185 510,165 539.8,138.2 Q542,136.8 543.5,138.6 L548.2,146.2 Q549,147.8 548,149.5 C538,163 526,178 515,193.5 C508,203 502,214 497,229.3 L492.8,229.3 Z" fill="#fff" stroke="none" stroke-width="0" />
<path d="M492.8,202.3 C497,185 512,164 539.8,138.2 Q541.8,136.8 543.4,138.6 L548.2,146.2 Q548.9,147.8 547.8,149.4" fill="none" stroke="#161616" stroke-width="1.05" />
<path d="M492.8,213 C497,195 512,172 541.3,140.1" fill="none" stroke="#161616" stroke-width="0.9" />
<path d="M495.2,215 C499.5,197 514.5,174 543.3,141.9" fill="none" stroke="#161616" stroke-width="0.9" />
<path d="M494,214 C498.2,196 513.2,173 542.3,141" fill="none" stroke="#161616" stroke-width="0.6" stroke-dasharray="0.5 1.2"/>
<path d="M547.2,149.6 C539.8,160.4 527.8,176.4 514.8,193.2 L520.8,190.6 C531,178 541,163 548.6,152.8 Z" fill="#161616" stroke="#161616" stroke-width="1.3" />
<path d="M547.4,149.2 C540,160 528,176 515,193" fill="none" stroke="#161616" stroke-width="1.0" />
<path d="M547.8,151.2 C540.5,161.8 529.5,177.2 518.2,191.8" fill="none" stroke="#fff" stroke-width="0.9" stroke-dasharray="1.1 3"/>
<path d="M515,193 C507,203 500.5,214 497,229.3" fill="none" stroke="#161616" stroke-width="1.5" />
<path d="M505,212.8 C503,218 501.5,223 500.6,229.3" fill="none" stroke="#161616" stroke-width="0.9" />
<path d="M514.6,193.2 Q513,199 515.6,199.5 Q518.6,199.8 519.2,194.2 L519.6,191.4" fill="#fff" stroke="#161616" stroke-width="1.15" />
</svg></body></html>
